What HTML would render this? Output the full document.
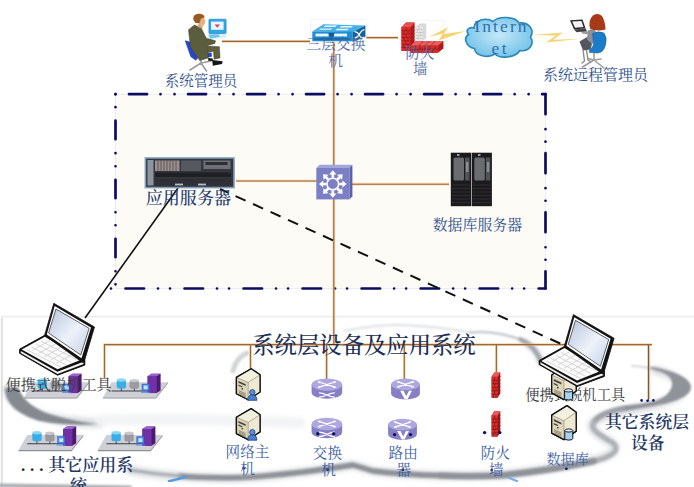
<!DOCTYPE html>
<html lang="zh">
<head>
<meta charset="utf-8">
<title>系统层设备及应用系统</title>
<style>
html,body{margin:0;padding:0;background:#fff;}
body{width:694px;height:487px;overflow:hidden;position:relative;}
svg{position:absolute;left:0;top:0;display:block;}
text{font-family:"Liberation Serif","Noto Serif CJK SC",serif;}
.lb{fill:#2f5089;font-size:14.6px;text-anchor:middle;}
.lb2{fill:#3d5fa3;font-size:14.6px;text-anchor:middle;}
.lb3{fill:#4f6aa5;font-size:14.6px;text-anchor:middle;}
.big{fill:#1f3864;font-size:17px;text-anchor:middle;font-weight:600;}
.gry{fill:#3a3a3a;font-size:14.5px;text-anchor:middle;}
.ol{stroke:#b5864f;stroke-width:1.7;fill:none;}
</style>
</head>
<body>
<svg width="694" height="487" viewBox="0 0 694 487">
<defs>
  <filter id="b2"><feGaussianBlur stdDeviation="2"/></filter>
  <filter id="b1"><feGaussianBlur stdDeviation="1"/></filter>
  <filter id="b05"><feGaussianBlur stdDeviation="0.5"/></filter>
  <linearGradient id="scr" x1="0" y1="0" x2="1" y2="1">
    <stop offset="0" stop-color="#b9c6de"/><stop offset="0.55" stop-color="#eef2fa"/><stop offset="1" stop-color="#c3cfe6"/>
  </linearGradient>
  <radialGradient id="cld" cx="0.5" cy="0.45" r="0.6">
    <stop offset="0" stop-color="#c4e8f8"/><stop offset="1" stop-color="#6fc1e8"/>
  </radialGradient>
</defs>

<!-- BACKGROUND -->
<rect x="0" y="0" width="694" height="487" fill="#ffffff"/>
<g id="bg">
  <path d="M1.800 487 V316.700 H694" fill="none" stroke="#ececec" stroke-width="1.700"/>
  <path d="M1.800 487 V318" fill="none" stroke="#e0e0e0" stroke-width="1.900"/>
</g>
<!-- SWIRL -->
<g id="swirl">
  <!-- soft halo -->
  <g fill="none" stroke-linecap="round" stroke-linejoin="round" filter="url(#b2)" opacity="0.5">
    <path d="M655 370 C668 373 678 378 684 386 C686 394 674 400 650 406 C620 411 598 416 592 424 C590 432 604 438 612 443 C620 450 610 457 590 461 C565 466 530 472 500 475 C450 477 400 474 373 471 L353 465 C320 470 280 476 240 478 C200 478 160 476 130 470" stroke="#b9bdc3" stroke-width="9"/>
    <path d="M8 389 C10 400 22 410 42 416 C60 421 80 423 100 423" stroke="#b9bdc3" stroke-width="10"/>
    <path d="M100 420 C160 419 240 420 300 423" stroke="#e6e8eb" stroke-width="11"/>
    <path d="M526 343 C534 348 539 354 541 363" stroke="#b9bdc3" stroke-width="7"/>
  </g>
  <!-- cores -->
  <g fill="none" stroke-linecap="round" stroke-linejoin="round" filter="url(#b1)">
    <path d="M233 371 C235 362 240 356 247 353" stroke="#d2d4d8" stroke-width="5"/>
    <path d="M344 331 C365 326.500 385 325 400 325 C430 325.500 452 329 470 332.500" stroke="#dcdee1" stroke-width="2"/>
    <path d="M470 332.500 C486 331 503 333.500 520.500 339.400" stroke="#c6c9cd" stroke-width="2.600"/>
    <path d="M520.500 339.400 C531 344 538 353 541.500 363" stroke="#a4a8ae" stroke-width="4.600"/>
    <path d="M646 367.500 C647.500 367 649 366.800 650 366.800 C664 368.800 676 372.500 683 377 C690 381 692.500 386 690 391 C687 396.500 676 401.500 660 404.800 C648 407.300 636 409 622 411.500 L621 406 C634 404.800 646 403.200 656 400.700 C662 398.500 666 396 668.500 392.500 C673 387 673.500 381 669 376.500 C664 372.500 656 370.200 648 368.600 Z" fill="#8f939a" stroke="none"/>
    <path d="M632 365.800 C638 366 644 366.800 650 368" stroke="#cfd1d5" stroke-width="1.800"/>
    <path d="M622 408.800 C606 412 598 416 594 422" stroke="#9da1a8" stroke-width="5.500"/>
    <path d="M594 422 C588 430 604 437 613 443 C621 450 612 457 594 461" stroke="#aeb1b7" stroke-width="5"/>
    <path d="M594 461 C565 467.500 530 472.500 500 475.500 C480 476.500 460 476.500 440 475.500" stroke="#8f9399" stroke-width="6.500"/>
    <path d="M440 475.500 C415 475 390 473 373 471 L353 465 C320 470 280 476 240 477.500 C215 478 195 477.500 180 476" stroke="#8f9298" stroke-width="5.400"/>
    <path d="M180 476 C160 474.500 145 472.500 130 470" stroke="#a9acb2" stroke-width="3"/>
    <path d="M0 485.500 C40 486.500 80 487 130 487.500" stroke="#a9adb3" stroke-width="4"/>
    <path d="M5 388 C5 400 12 412 38 420.500 C60 425 80 425.500 99 424 C80 422 60 418 45 412.500 C30 406 22 398 18 387 Z" fill="#858990" stroke="none"/>
  </g>
  <path d="M168 481.500 L188 476.500" stroke="#5a9be0" stroke-width="2.400" filter="url(#b05)"/>
  <path d="M508 477.500 L518 481.500" stroke="#77aee8" stroke-width="2" filter="url(#b05)"/>
</g>
<!-- BOX -->
<g id="box">
  <rect x="115.5" y="94.2" width="430" height="194.3" fill="#fdfbf5"/>
  <rect x="115.5" y="94.2" width="430" height="194.3" fill="none" stroke="#e6e9f2" stroke-width="0.8"/>
  <g stroke="#0c0c62" stroke-width="2.7" stroke-linecap="round" fill="none">
    <path d="M115.5 94.2 H545.5" stroke-dasharray="0.01 13.5 18 13.5 0.01 14"/>
    <path d="M115.5 94.2 V288.5" stroke-dasharray="0.01 13 0.01 13.5 18.5 14"/>
    <path d="M111 288.5 H545.5" stroke-dasharray="0.01 14.5 18.5 14 0.01 12"/>
    <path d="M545.5 94.2 V288.5" stroke-dasharray="20 15 0.01 12.5 0.01 11.5"/>
  </g>
</g>
<!-- LINES -->
<g id="lines">
  <g stroke="#f3b878" stroke-width="2.700" fill="none" opacity="0.600">
    <path id="ln1" d="M222 41.400 H310 M366 37.600 H398 M333.800 40 V344.600 M236 181 H317 M352 184.200 H449 M104.500 378 V344.600 H652 M250.500 345 V369 M326.600 345 V380 M404.300 345 V380 M496.400 345 V372"/>
  </g>
  <g stroke="#98693f" stroke-width="1.150" fill="none">
    <use href="#ln1"/>
  </g>
  <path d="M648.400 345 V401" stroke="#6e5a48" stroke-width="1.300" fill="none"/>
  <path d="M649.700 345 V399" stroke="#e9a566" stroke-width="1" fill="none" opacity="0.800"/>
  <path d="M178 188 L85 318" stroke="#111" stroke-width="1.600" fill="none"/>
  <path d="M220 189 L563.500 345" stroke="#111" stroke-width="2" fill="none" stroke-dasharray="11 8.200" stroke-dashoffset="2.100"/>
</g>
<!-- UNDER-LABELS -->
<g id="underlabels">
  <text class="gry" x="575.200" y="399.5" style="font-size:14.300px">便携式脱机工具</text>
</g>
<!-- ICONS -->
<g id="icons">
<!-- admin (left) -->
<g id="admin">
  <g stroke="#9c9c9c" stroke-width="1.6" fill="none" stroke-linecap="round">
    <path d="M201 59 V63 L190 70 M201 63 L206.5 71 M201 63 L211 61"/>
  </g>
  <path d="M185.3 40.8 L189.8 42.1 L197.6 57.9 L195.8 60.2 L190.8 56.6 Z" fill="#2546d2" stroke="#1a2f9a" stroke-width="0.6"/>
  <path d="M198 55 L211.5 52.6 L212 56.6 L200 59.5 Z" fill="#2546d2"/>
  <path d="M188.5 29.7 L194.4 25.1 L201 27.7 L206.3 38.2 L215.5 40.8 L214.8 43.5 L207.6 45.4 L208.2 57.9 L199.7 60.5 L190.5 47.4 Z" fill="#5c5c3e" stroke="#3f3f2a" stroke-width="0.5"/>
  <path d="M207.6 46.1 L219.4 46.7 L220 57.9 L214.1 59.2 L213.5 51.3 L207.6 52.6 Z" fill="#60603f" stroke="#3f3f2a" stroke-width="0.5"/>
  <path d="M212.2 59.9 L222.7 61.2 L222 64 L212.8 65.8 Z" fill="#161616"/>
  <path d="M208.2 57.9 L212.8 58.5 L212.8 61 L208.2 60.8 Z" fill="#161616"/>
  <path d="M198.500 23 L202.500 24 L202.500 28.500 L197.500 27 Z" fill="#d9a273"/>
  <ellipse cx="201.6" cy="21.5" rx="3.6" ry="4.6" fill="#e4b184"/>
  <path d="M193.2 19.5 Q193 14 198.5 13.8 Q204 13.6 204.6 17.5 L201 18.5 L199.5 23 L195.5 23 Z" fill="#99591f"/>
  <rect x="208.9" y="19.2" width="17.2" height="14.5" rx="1" fill="#2fa6e6" stroke="#1b7fc0" stroke-width="0.6"/>
  <rect x="211" y="21.6" width="12.6" height="8.2" fill="#e9f6fd"/>
  <path d="M214.5 24.5 h5.5 l-2.7 3.2 z" fill="#d6455a"/>
  <path d="M208.2 34.6 L218.6 34.2 L220.5 37 L210 38.8 Z" fill="#6fc6ef"/>
  <path d="M220 35.5 l6 -2 l0.5 3.5 l-5 1.5z" fill="#d7eefa"/>
</g>

<!-- layer-3 switch -->
<g id="l3switch">
  <rect x="310.5" y="19.5" width="55.5" height="22.5" fill="#ffffff" stroke="#eef3f8" stroke-width="0.8"/>
  <path d="M312.3 31.6 L323.5 24.3 L365.4 25.6 L352.5 31.9 Z" fill="#46b0e6"/>
  <path d="M312.3 31.6 H352.5 V41.2 H312.3 Z" fill="#1f8fd2"/>
  <path d="M352.5 31.9 L365.4 25.6 V37.2 L352.5 41.8 Z" fill="#14629c"/>
  <g fill="#e9f6fd">
    <path d="M325 25.6 h12 l-1.6 1.4 h-12z M341 26 h12 l-1.6 1.4 h-12z M320.5 28.4 h12 l-1.6 1.4 h-12z M337 28.8 h12 l-1.6 1.4 h-12z"/>
    <rect x="315.5" y="33.6" width="13" height="2.8"/>
    <rect x="334" y="33.6" width="13" height="2.8"/>
  </g>
  <path d="M328.5 33 h6 l-1.5 4.5 h-3z" fill="#0f5c96"/>
  <rect x="314" y="38.2" width="36" height="1.4" fill="#0f5c96"/>
  <g stroke="#ffffff" stroke-width="1.2" fill="none">
    <path d="M354.5 31.5 q3.5 0.5 5 4 t5 1.5"/>
    <path d="M354.5 38 q3.5 -0.5 5 -4 t5 -4.5"/>
  </g>
</g>

<!-- firewall top -->
<g id="fwtop">
  <rect x="400.3" y="20.8" width="43.5" height="32.5" fill="#ffffff" stroke="#eeeeee" stroke-width="0.7"/>
  <!-- gray wall -->
  <path d="M415.5 26.5 L419.5 23.6 H426.3 V38.5 L423 40.6 H415.5 Z" fill="#d9d9d9"/>
  <path d="M415.5 26.5 H423 V40.6 H415.5 Z" fill="#e6e6e6"/>
  <g stroke="#b5b5b5" stroke-width="0.5"><path d="M415.5 29.5 H423 M415.5 32.5 H423 M415.5 35.5 H423 M415.5 38.5 H423 M419 26.5 V29.5 M417.5 29.5 V32.5 M420.5 32.5 V35.5 M418 35.5 V38.5"/></g>
  <!-- left red wall -->
  <path d="M401.5 27.2 L406 22.6 H414.6 V47 L410.5 51 H401.5 Z" fill="#b51d1d"/>
  <path d="M401.5 27.2 H410.5 V51 H401.5 Z" fill="#d92b2b"/>
  <path d="M401.5 27.2 L406 22.6 H414.6 L410.5 27.2 Z" fill="#e85050"/>
  <g stroke="#7d1010" stroke-width="0.55" fill="none"><path d="M401.5 30.6 H410.5 l4.1 -4 M401.5 34 H410.5 l4.1 -4 M401.5 37.4 H410.5 l4.1 -4 M401.5 40.8 H410.5 l4.1 -4 M401.5 44.2 H410.5 l4.1 -4 M401.5 47.6 H410.5 l4.1 -4 M406 27.2 V30.6 M404 30.6 V34 M408 30.6 V34 M406 34 V37.4 M404 37.4 V40.8 M408 37.4 V40.8 M406 40.8 V44.2 M404 44.2 V47.6 M408 44.2 V47.6 M406 47.6 V51"/></g>
  <!-- lower red wall -->
  <path d="M410.5 45.5 L416 41 H443.4 V48.5 L438 52.8 H410.5 Z" fill="#b51d1d"/>
  <path d="M410.5 45.5 H438 V52.8 H410.5 Z" fill="#d92b2b"/>
  <path d="M410.5 45.5 L416 41 H443.4 L438 45.5 Z" fill="#e96060"/>
  <g stroke="#7d1010" stroke-width="0.55" fill="none"><path d="M410.5 49.2 H438 l5.4 -4.2 M415 45.5 V49.2 M420 45.5 V49.2 M425 45.5 V49.2 M430 45.5 V49.2 M435 45.5 V49.2 M412.5 49.2 V52.8 M417.5 49.2 V52.8 M422.5 49.2 V52.8 M427.5 49.2 V52.8 M432.5 49.2 V52.8 M419 45.5 l4.5 -4.5 M425 45.5 l4.5 -4.5 M431 45.5 l4.5 -4.5"/></g>
</g>

<!-- lightning bolts -->
<path d="M429 37 L448.5 27 L443.5 34 L466 31 L438.5 40.5 L443 33.6 Z" fill="#f2cc58" opacity="0.85"/>
<path d="M532 35 L563 32.6 L553 39.8 L581 38.8 L546 42.6 L556 35.6 Z" fill="#f2cc58" opacity="0.85"/>

<!-- cloud -->
<g id="cloud">
  <path d="M474 28 C474 20 486 17 493 21.5 C499 15.5 515 16.5 519 23 C529 22 535 30 530.5 37 C535 44 529 52 520 50.5 C515 58 500 59 495 54 C488 58.5 475 56 474.5 48.5 C466 47 463 38 468.5 34.5 C465 30 469 26.5 474 28 Z" fill="url(#cld)" stroke="#2b87b6" stroke-width="1.6"/>
</g>

<!-- remote admin -->
<g id="radmin">
  <g stroke="#9c9c9c" stroke-width="1.5" fill="none" stroke-linecap="round">
    <path d="M594 53 V60 L582.500 67 M594 60 L604 68 M594 60 L601 59 M594 60 L588 58.500"/>
  </g>
  <path d="M579.5 41.5 L588 36.5 L592 44 L590.5 49.5 L583 50.5 Z" fill="#55555d"/>
  <path d="M583 50 L584.5 61 L581.5 63.5" stroke="#8d8d8d" stroke-width="1.4" fill="none"/>
  <path d="M586.5 50 L588 60 L591 62" stroke="#8d8d8d" stroke-width="1.4" fill="none"/>
  <path d="M588 30.5 L594 28 L597 34 L592.5 44 L587 39.5 Z" fill="#8f8f98"/>
  <path d="M581 30.5 L588.5 31.5 L589 34.5 L582 33.5Z" fill="#9a9aa2"/>
  <path d="M592.5 33.5 Q598 30.5 604 33 Q607.5 38 605.5 45 Q604 52 598 53 L589.5 52.5 Q588.5 50 591 48.5 Q594.5 46 593 40 Z" fill="#1d7cc9" stroke="#155e9c" stroke-width="0.5"/>
  <path d="M590 28.5 Q588 20 593 15.5 Q598 12.5 602 16 Q605.5 22 605.5 29.5 Q597 32 590 28.5 Z" fill="#a93a17"/>
  <path d="M570 20.2 L582.5 19.6 L585.5 28.2 L574 29.4 Z" fill="#2a2a2a"/>
  <path d="M572.2 21.6 L581.4 21.1 L583.5 26.9 L575 27.8 Z" fill="#f4f4f4"/>
  <path d="M574 29.4 L585.5 28.2 L587 31 L576.5 32.2 Z" fill="#444"/>
</g>

<!-- app server -->
<g id="appsrv">
  <rect x="145.4" y="158" width="88.6" height="29.6" fill="#34363b" stroke="#7f9cb8" stroke-width="1.6"/>
  <rect x="147.5" y="160" width="6" height="25.5" fill="#8c95a0"/>
  <rect x="155" y="160.5" width="24.5" height="10.5" fill="#9a8f90"/>
  <g stroke="#4a4040" stroke-width="0.7"><path d="M158 160.5 v10.5 M161 160.5 v10.5 M164 160.5 v10.5 M167 160.5 v10.5 M170 160.5 v10.5 M173 160.5 v10.5 M176 160.5 v10.5"/></g>
  <rect x="181" y="160.5" width="20" height="10.5" fill="#55585e"/>
  <rect x="203.5" y="160.5" width="27" height="8.5" fill="#6d7076"/>
  <rect x="205.5" y="162" width="22" height="3" fill="#2d2f33"/>
  <rect x="155" y="172.500" width="76" height="4.5" fill="#1f2023"/>
  <rect x="155" y="178.5" width="76" height="7" fill="#2e3035"/>
  <rect x="175" y="183.6" width="8" height="1.8" fill="#b9bcc2"/>
  <rect x="198" y="183.6" width="8" height="1.800" fill="#b9bcc2"/>
</g>

<!-- core switch -->
<g id="core">
  <path d="M316.3 168 L319.5 164.8 H352.4 L349.4 168 Z" fill="#a3a6dc"/>
  <path d="M349.4 168 L352.4 164.8 V196.2 L349.4 199.4 Z" fill="#5b60a8"/>
  <rect x="316.3" y="168" width="33.1" height="31.400" fill="#7b80c6"/>
  <g fill="#ffffff">
    <path id="arN" d="M332.8 170.200 l3.600 4.200 h-2.300 v3.200 h-2.600 v-3.200 h-2.300 z"/>
    <use href="#arN" transform="rotate(45 332.8 184)"/>
    <use href="#arN" transform="rotate(90 332.8 184)"/>
    <use href="#arN" transform="rotate(135 332.8 184)"/>
    <use href="#arN" transform="rotate(180 332.8 184)"/>
    <use href="#arN" transform="rotate(225 332.8 184)"/>
    <use href="#arN" transform="rotate(270 332.8 184)"/>
    <use href="#arN" transform="rotate(315 332.8 184)"/>
  </g>
  <circle cx="332.8" cy="184" r="5.800" fill="#7b80c6" stroke="#ffffff" stroke-width="1.6"/>
</g>

<!-- db server -->
<g id="dbsrv">
  <rect x="450.8" y="152.700" width="20.2" height="53.500" fill="#1b1b1d"/>
  <rect x="471.6" y="152.700" width="20.300" height="53.500" fill="#1b1b1d"/>
  <rect x="453.5" y="157.500" width="10.500" height="23" rx="1.500" fill="#6a6c70"/>
  <rect x="465" y="157.500" width="4.500" height="23" fill="#505256"/>
  <rect x="474.3" y="157.500" width="10.500" height="23" rx="1.500" fill="#6a6c70"/>
  <rect x="485.8" y="157.500" width="4.500" height="23" fill="#505256"/>
  <rect x="466" y="162" width="2.500" height="10" fill="#8b8d92"/>
  <rect x="486.8" y="162" width="2.500" height="10" fill="#8b8d92"/>
  <g stroke="#3a3a3d" stroke-width="0.6"><path d="M452 185 h18 M452 188.500 h18 M452 192 h18 M452 195.500 h18 M452 199 h18 M452 202.500 h18 M472.800 185 h18 M472.800 188.500 h18 M472.800 192 h18 M472.800 195.500 h18 M472.800 199 h18 M472.800 202.500 h18"/></g>
  <rect x="457" y="154.300" width="2.500" height="1.400" fill="#d0d0d0"/><rect x="478" y="154.300" width="2.500" height="1.400" fill="#d0d0d0"/>
</g>

<!-- ===== bottom icons ===== -->
<defs>
  <g id="lap">
    <!-- base -->
    <path d="M564.200 346.600 L539.200 360.500 V364.600 L577.100 386.500 L604.400 376.400 V372 L603 368.800 Z" fill="#111" stroke="#111" stroke-width="1" stroke-linejoin="round"/>
    <path d="M564.500 348 L541.300 360.900 L577.100 380.600 L601.800 370.600 Z" fill="#fbfbfb"/>
    <path d="M540.400 362.300 L577 383 L603.200 373 L603.300 375.300 L577.100 385.300 L540.400 364.300 Z" fill="#f4f4f4"/>
    <g stroke="#d0d0d0" stroke-width="0.900" fill="none">
      <path d="M561 352.500 L596 370.800 M556 355.500 L591 373.600 M551 358.300 L585.500 376.200 M546.500 361 L580.500 378.500"/>
      <path d="M570 351.500 L552 361.600 M576 354.600 L558 364.900 M582 357.800 L564 368.200 M588 361 L570 371.400 M594 364.200 L576 374.600"/>
    </g>
    <!-- screen -->
    <path d="M573.400 314.600 L614.100 338.300 L603.400 374.300 L600.800 372.800 L564.200 346.600 Z" fill="#111" stroke="#111" stroke-width="0.800" stroke-linejoin="round"/>
    <path d="M574.300 317.300 L610.600 338.700 L601.100 369.600 L566.400 345.800 Z" fill="#ffffff"/>
    <path d="M575.500 320.300 L608.700 339.600 L600.400 366.300 L568.200 344.300 Z" fill="url(#scr)" stroke="#222" stroke-width="0.700"/>
  </g>
  <g id="tower">
    <path d="M15 0 L0 8.800 V25.400 L12 31.500 L24 23.600 V6.200 Z" fill="#ece5cd" stroke="#111" stroke-width="1.300" stroke-linejoin="round"/>
    <path d="M0 8.800 L12 14 L24 6.200 L15 0 Z" fill="#f4f0e0"/>
    <path d="M0 8.800 L12 14 V31.500 L0 25.400 Z" fill="#ddd5b8"/>
    <path d="M12 14 L24 6.200 V23.600 L12 31.500 Z" fill="#efe9d3"/>
    <path d="M0 8.800 L12 14 L24 6.200 M12 14 V31.500" stroke="#8b8468" stroke-width="0.600" fill="none"/>
    <path d="M2 12.500 L9.500 15.800 V17.600 L2 14.300 Z M2 16 L6 17.800 V19.200 L2 17.400Z" fill="#444"/>
    <path d="M2.500 22.300 L9.500 25.600 M2.500 23.800 L9.500 27.100 M2.500 25.300 L9.500 28.600" stroke="#6a6450" stroke-width="0.700"/>
    <circle cx="6" cy="20.500" r="0.800" fill="#333"/>
    <path d="M15 0 L0 8.800 V25.400 L12 31.500 L24 23.600 V6.200 Z" fill="none" stroke="#111" stroke-width="1.300" stroke-linejoin="round"/>
  </g>
  <g id="user">
    <circle cx="0" cy="0" r="2.700" fill="#5d8fd8" stroke="#1c3f86" stroke-width="0.800"/>
    <path d="M-4.600 8 Q-4.600 2.600 0 2.600 Q4.600 2.600 4.600 8 Z" fill="#4d7fd0" stroke="#1c3f86" stroke-width="0.800"/>
  </g>
  <g id="cyl">
    <path d="M-4 -4 V4 A4 1.600 0 0 0 4 4 V-4 Z" fill="#a9d2f2" stroke="#111" stroke-width="1"/>
    <ellipse cx="0" cy="-4" rx="4" ry="1.600" fill="#d5ebfb" stroke="#111" stroke-width="0.900"/>
  </g>
  <g id="appsys">
    <path d="M111.600 382.300 H167.800 L155.600 397.400 H103 Z" fill="#cfd0d6"/>
    <path d="M103 397.400 H155.600 L167.800 382.300 V383.500 L155.900 398.600 H103 Z" fill="#8d8e96"/>
    <path d="M111.600 391 H148" stroke="#3c3c44" stroke-width="1.100"/>
    <path d="M121.300 388 V391 M134.300 388 V391" stroke="#3c3c44" stroke-width="0.900"/>
    <rect x="116.700" y="379.600" width="9.300" height="9" rx="2" fill="#37aee8"/>
    <ellipse cx="121.350" cy="380" rx="4.650" ry="1.700" fill="#8fd6f6"/>
    <rect x="129.600" y="380.200" width="9.300" height="8.600" rx="2" fill="#9b9b9f"/>
    <ellipse cx="134.250" cy="380.600" rx="4.650" ry="1.700" fill="#c9c9cc"/>
    <path d="M147.600 376.300 L151.500 373.700 H160.600 V390.500 L156.800 393.100 H147.600 Z" fill="#4a1a70"/>
    <path d="M147.600 376.300 H156.800 V393.100 H147.600 Z" fill="#7130a6"/>
    <path d="M147.600 376.300 L151.500 373.700 H160.600 L156.800 376.300 Z" fill="#9a62c8"/>
    <rect x="142" y="384" width="7.200" height="6.800" fill="#3f86ea" stroke="#2a62c0" stroke-width="0.500"/>
    <rect x="143.600" y="385.500" width="4" height="3.800" fill="#cfe3fb"/>
    <path d="M141 392.300 h9" stroke="#4a8fe6" stroke-width="1"/>
  </g>
  <g id="swdisk">
    <path d="M-15.300 0 V8 A15.300 6.200 0 0 0 15.300 8 V0 Z" fill="#877fc6"/>
    <ellipse cx="0" cy="0" rx="15.300" ry="6.200" fill="#aea8de"/>
    <g stroke="#ffffff" stroke-width="1.300" fill="none" stroke-linecap="round">
      <path d="M-8 -2.600 L8 2.600 M-8 2.600 L8 -2.600"/>
      <path d="M-7.500 8.200 C-2 8.200 2 12.600 7.500 12.600 M-7.500 12.600 C-2 12.600 2 8.200 7.500 8.200"/>
    </g>
    <g fill="#ffffff"><path d="M-9.500 -3.100 l3.200 -0.300 l-1.200 2.200z M9.500 3.100 l-3.200 0.300 l1.200 -2.200z M-9.500 3.100 l3.200 0.300 l-1.200 -2.200z M9.500 -3.100 l-3.200 -0.300 l1.200 2.200z"/></g>
  </g>
  <g id="rtdisk">
    <path d="M-14.400 0 V9.300 A14.400 6 0 0 0 14.400 9.300 V0 Z" fill="#877fc6"/>
    <ellipse cx="0" cy="0" rx="14.400" ry="5.900" fill="#aea8de"/>
    <g stroke="#ffffff" stroke-width="1.300" fill="none" stroke-linecap="round">
      <path d="M-7.500 -2.500 L7.500 2.500 M-7.500 2.500 L7.500 -2.500"/>
    </g>
    <g fill="#ffffff"><path d="M-9 -3 l3.200 -0.300 l-1.200 2.200z M9 3 l-3.200 0.300 l1.200 -2.200z M-9 3 l3.200 0.300 l-1.200 -2.200z M9 -3 l-3.200 -0.300 l1.200 2.200z"/></g>
    <path d="M-5.300 6.400 H-2 L0.700 12 L3.500 6.400 H6.500 L2 15 H-0.800 Z" fill="#ffffff"/>
  </g>
  <g id="fwsm">
    <path d="M491.600 376.800 L494.300 372.500 H500.300 V393.500 L497.700 397.800 H491.600 Z" fill="#a81818"/>
    <path d="M491.600 376.800 H497.700 V397.800 H491.600 Z" fill="#dc3030"/>
    <path d="M491.600 376.800 L494.300 372.500 H500.300 L497.700 376.800 Z" fill="#ea5a5a"/>
    <g stroke="#6e0d0d" stroke-width="0.600" fill="none"><path d="M491.600 380.300 H497.700 l2.600 -4.300 M491.600 383.800 H497.700 l2.600 -4.300 M491.600 387.300 H497.700 l2.600 -4.300 M491.600 390.800 H497.700 l2.600 -4.300 M491.600 394.300 H497.700 l2.600 -4.300 M494.600 376.800 V380.300 M493.300 380.300 V383.800 M496 380.300 V383.800 M494.600 383.800 V387.300 M493.300 387.300 V390.800 M496 387.300 V390.800 M494.600 390.800 V394.300 M493.300 394.300 V397.800 M496 394.300 V397.800"/></g>
  </g>
</defs>

<!-- app systems -->
<use href="#appsys" transform="translate(-79 0)"/>
<use href="#appsys"/>
<use href="#appsys" transform="translate(-84.400 52.700)"/>
<use href="#appsys" transform="translate(-5.200 52.700)"/>

<!-- hosts -->
<use href="#tower" transform="translate(236.400 368.700) scale(0.985)"/>
<use href="#user" transform="translate(252.300 392.300)"/>
<use href="#tower" transform="translate(236.400 408.600) scale(0.985)"/>
<use href="#user" transform="translate(252.300 432.200)"/>

<!-- switches -->
<use href="#swdisk" transform="translate(326.900 384.600)"/>
<use href="#swdisk" transform="translate(326.900 424)"/>
<!-- routers -->
<use href="#rtdisk" transform="translate(405.500 384.300)"/>
<use href="#rtdisk" transform="translate(402.500 424.600)"/>
<!-- firewalls -->
<use href="#fwsm"/>
<use href="#fwsm" transform="translate(0 38.700)"/>
<!-- db -->
<use href="#tower" transform="translate(551.700 365.500) scale(1.020 1.080)"/>
<use href="#cyl" transform="translate(568.600 394.400)"/>
<use href="#tower" transform="translate(551.700 405.600) scale(1.020 1.080)"/>
<use href="#cyl" transform="translate(568.800 434.500)"/>

<!-- laptops -->
<use href="#lap" transform="translate(-519.600 -11.300)"/>
<use href="#lap"/>

<!-- small navy dots -->
<g fill="#101060">
  <circle cx="317.800" cy="433.700" r="1.700"/><circle cx="333.700" cy="433.700" r="1.700"/>
  <circle cx="394.600" cy="434.600" r="1.700"/><circle cx="410.500" cy="434.600" r="1.700"/>
  <circle cx="484.600" cy="432.600" r="1.700"/><circle cx="499.800" cy="432.600" r="1.700"/>
  <circle cx="243.700" cy="468.300" r="1.300"/><circle cx="327.700" cy="469.800" r="1.300"/>
  <circle cx="403" cy="469.800" r="1.300"/><circle cx="491.700" cy="470" r="1.300"/>
  <circle cx="566.400" cy="468.800" r="1.300"/>
  <circle cx="641.600" cy="400.400" r="1.300"/><circle cx="647.500" cy="400.800" r="1.300"/><circle cx="653.400" cy="400.400" r="1.300"/>
</g>
</g>
<!-- TEXT -->
<g id="labels">
  <text class="gry" x="58.600" y="389.5" style="font-size:15.200px">便携式脱机工具</text>
  <text class="lb" x="201" y="86.2" style="font-size:14.500px">系统管理员</text>
  <text class="lb3" x="336" y="49.4" style="font-size:14.700px">三层交换</text>
  <text class="lb3" x="335.600" y="66.4" style="font-size:14.700px">机</text>
  <text class="lb3" x="420" y="58.0" style="font-size:14.500px">防火</text>
  <text class="lb3" x="420.300" y="74.0" style="font-size:14.500px">墙</text>
  <text x="501.500" y="31.800" text-anchor="middle" fill="#2f6fae" style="font-family:'Liberation Serif',serif;font-size:17.500px;letter-spacing:2.100px">Intern</text>
  <text x="500.300" y="53.600" text-anchor="middle" fill="#2f6fae" style="font-family:'Liberation Serif',serif;font-size:17.500px;letter-spacing:2.600px">et</text>
  <text class="lb" x="595.500" y="80.2" style="font-size:15px">系统远程管理员</text>
  <text class="big" x="188.400" y="204.4" style="font-size:17.100px;font-weight:500;fill:#1f3a6e">应用服务器</text>
  <text class="lb" x="477.400" y="229.7" style="font-size:14.900px">数据库服务器</text>
  <text x="364" y="352.8" font-size="22.350" text-anchor="middle" fill="#1c2f55" font-weight="500">系统层设备及应用系统</text>
  <text class="big" x="20.900" y="471.4" style="font-size:17px;text-anchor:start;letter-spacing:4.95px;fill:#222">...</text>
  <text class="big" x="48.200" y="471.4" style="font-size:17px;text-anchor:start">其它应用系</text>
  <text class="big" x="78.500" y="491.9" style="font-size:17px">统</text>
  <text class="lb2" x="247.500" y="457.4">网络主</text>
  <text class="lb2" x="247.500" y="474.4">机</text>
  <text class="lb2" x="327.400" y="457.6">交换</text>
  <text class="lb2" x="328.500" y="474.6">机</text>
  <text class="lb2" x="403.200" y="457.6">路由</text>
  <text class="lb2" x="403.900" y="474.6">器</text>
  <text class="lb2" x="495.400" y="457.6">防火</text>
  <text class="lb2" x="496.200" y="474.6">墙</text>
  <text class="lb2" x="567.600" y="464.2" style="font-size:14.100px">数据库</text>
  <text class="big" x="647" y="428.0" style="font-size:16.800px">其它系统层</text>
  <text class="big" x="647.800" y="449.0" style="font-size:16.800px">设备</text>
</g>
</svg>
</body>
</html>
